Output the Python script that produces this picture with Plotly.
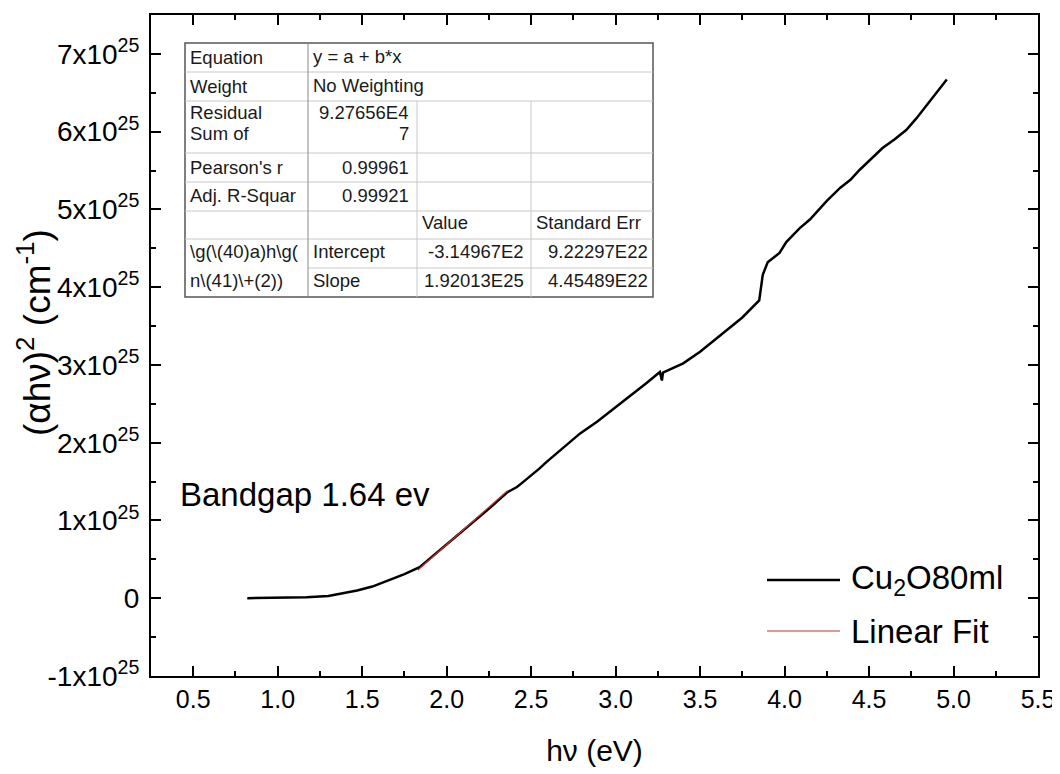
import plotly.graph_objects as go

# ---------------- data ----------------
hv = [0.82, 1.0, 1.17, 1.3, 1.47, 1.56, 1.66, 1.75, 1.84, 1.96, 2.05, 2.155, 2.26, 2.357,
      2.416, 2.45, 2.49, 2.55, 2.59, 2.69, 2.79, 2.89, 2.98, 3.08, 3.185, 3.262, 3.27,
      3.274, 3.28, 3.32, 3.40, 3.50, 3.64, 3.75, 3.85, 3.862, 3.871, 3.90, 3.97, 4.01,
      4.09, 4.15, 4.19, 4.25, 4.33, 4.39, 4.445, 4.52, 4.58, 4.65, 4.72, 4.78, 4.84,
      4.90, 4.96]
ahv2_e25 = [0.0, 0.003, 0.013, 0.03, 0.10, 0.15, 0.23, 0.31, 0.40, 0.62, 0.79, 0.97, 1.17,
            1.36, 1.43, 1.49, 1.56, 1.67, 1.75, 1.94, 2.12, 2.27, 2.42, 2.59, 2.77, 2.91,
            2.85, 2.80, 2.90, 2.94, 3.02, 3.17, 3.41, 3.61, 3.83, 4.0, 4.16, 4.32, 4.44,
            4.58, 4.76, 4.87, 4.97, 5.11, 5.28, 5.38, 5.51, 5.66, 5.79, 5.90, 6.02, 6.17,
            6.34, 6.50, 6.67]
fit_x = [1.83, 2.36]
fit_y_e25 = [0.364, 1.382]

x_ticks = [0.5, 1.0, 1.5, 2.0, 2.5, 3.0, 3.5, 4.0, 4.5, 5.0, 5.5]
y_tick_vals_e25 = [-1, 0, 1, 2, 3, 4, 5, 6, 7]
y_tick_text = ["-1x10<sup>25</sup>", "0", "1x10<sup>25</sup>", "2x10<sup>25</sup>",
               "3x10<sup>25</sup>", "4x10<sup>25</sup>", "5x10<sup>25</sup>",
               "6x10<sup>25</sup>", "7x10<sup>25</sup>"]

x_title = "h\u03bd (eV)"
y_title = "(\u03b1h\u03bd)<sup>2</sup> (cm<sup>-1</sup>)"
series_name = "Cu<sub>2</sub>O80ml"
fit_name = "Linear Fit"
bandgap_text = "Bandgap 1.64 ev"

# fit table contents
table_rows = [
    ("Equation", "y = a + b*x"),
    ("Weight", "No Weighting"),
]
stat_rows = [
    (["Residual", "Sum of"], ["9.27656E4", "7"]),
    (["Pearson's r"], ["0.99961"]),
    (["Adj. R-Squar"], ["0.99921"]),
]
param_header = ["Value", "Standard Err"]
param_label = ["\\g(\\(40)a)h\\g(", "n\\(41)\\+(2))"]
param_rows = [("Intercept", "-3.14967E2", "9.22297E22"),
              ("Slope", "1.92013E25", "4.45489E22")]

# ---------------- figure ----------------
E = 1e25
FONT = "Liberation Sans, Arial, sans-serif"
OFF = 8                      # page body margin
W, H = 1060 - OFF, 774 - OFF
L, R, T, B = 151, 1038, 15, 676   # plot area in window pixels


def px(x):
    return (x - L) / (R - L)


def py(y):
    return (B - y) / (B - T)


fig = go.Figure()
fig.add_trace(go.Scatter(x=hv, y=[v * E for v in ahv2_e25], mode="lines",
                         line=dict(color="black", width=2.5), name=series_name,
                         showlegend=False))
fig.add_trace(go.Scatter(x=fit_x, y=[v * E for v in fit_y_e25], mode="lines",
                         line=dict(color="#c8302f", width=1.2), name=fit_name,
                         showlegend=False))

axis_common = dict(showline=True, linecolor="black", linewidth=2, mirror="allticks",
                   ticks="inside", ticklen=10, tickwidth=1.5, tickcolor="black",
                   showgrid=False, zeroline=False)

fig.update_xaxes(range=[0.25, 5.5], tickvals=x_ticks,
                 ticktext=[f"{v:.1f}" for v in x_ticks],
                 tickfont=dict(family=FONT, size=25, color="black"),
                 minor=dict(ticks="inside", ticklen=5, tickwidth=1.5, tickcolor="black",
                            dtick=0.25, tick0=0.25, showgrid=False),
                 title=dict(text=x_title, font=dict(family=FONT, size=30, color="black"),
                            standoff=28),
                 **axis_common)
fig.update_yaxes(range=[-1 * E, 7.5 * E], tickvals=[v * E for v in y_tick_vals_e25],
                 ticktext=y_tick_text,
                 tickfont=dict(family=FONT, size=28, color="black"),
                 minor=dict(ticks="inside", ticklen=5, tickwidth=1.5, tickcolor="black",
                            dtick=0.5 * E, tick0=0, showgrid=False),
                 ticklabelstandoff=4,
                 **axis_common)

shapes = []
annos = []

# y axis title (placed as rotated annotation to match vertical position)
annos.append(dict(xref="paper", yref="paper", x=px(34), y=py(333), text=y_title,
                  textangle=-90, showarrow=False, xanchor="center", yanchor="middle",
                  font=dict(family=FONT, size=37, color="black")))

# legend (manual, to match long line samples)
leg_items = [(series_name, "black", 2.5, 580), (fit_name, "#c8302f", 1.2, 631)]
for name, col, w, yy in leg_items:
    shapes.append(dict(type="line", xref="paper", yref="paper", x0=px(767), x1=px(840),
                       y0=py(yy), y1=py(yy), line=dict(color=col, width=w)))
    annos.append(dict(xref="paper", yref="paper", x=px(849), y=py(yy), text=name,
                      showarrow=False, xanchor="left", yanchor="middle",
                      font=dict(family=FONT, size=33, color="black")))

# bandgap label
annos.append(dict(xref="paper", yref="paper", x=px(178), y=py(494), text=bandgap_text,
                  showarrow=False, xanchor="left", yanchor="middle",
                  font=dict(family=FONT, size=33, color="black")))

# fit results table
cols = [185, 308, 417, 531, 653]
rows = [43, 72, 101, 153, 182, 211, 239, 268, 297]
light = "#c8c8c8"


def hline(y, x0, x1, color=light, width=1):
    shapes.append(dict(type="line", xref="paper", yref="paper", x0=px(x0), x1=px(x1),
                       y0=py(y), y1=py(y), line=dict(color=color, width=width)))


def vline(x, y0, y1, color=light, width=1):
    shapes.append(dict(type="line", xref="paper", yref="paper", x0=px(x), x1=px(x),
                       y0=py(y0), y1=py(y1), line=dict(color=color, width=width)))


shapes.append(dict(type="rect", xref="paper", yref="paper", x0=px(cols[0]), x1=px(cols[-1]),
                   y0=py(rows[-1]), y1=py(rows[0]), fillcolor="white",
                   line=dict(color="#555555", width=1.5), layer="above"))
for r in rows[1:7]:
    hline(r, cols[0], cols[-1])
hline(rows[7], cols[1], cols[-1])
vline(cols[1], rows[0], rows[-1], color="#8a8a8a")
vline(cols[2], rows[2], rows[-1])
vline(cols[3], rows[2], rows[-1])

TF = dict(family=FONT, size=18.5, color="#1a1a1a")


def txt(x, y, s, anchor="left"):
    annos.append(dict(xref="paper", yref="paper", x=px(x), y=py(y), text=s,
                      showarrow=False, xanchor=anchor, yanchor="middle", font=TF))


for i, (a, b) in enumerate(table_rows):
    yc = (rows[i] + rows[i + 1]) / 2
    txt(188, yc, a)
    txt(311, yc - 1, b)

stat_line_y = [[112, 134], [167], [195]]
for (labels, vals), ys in zip(stat_rows, stat_line_y):
    for s, y in zip(labels, ys):
        txt(188, y, s)
    for s, y in zip(vals, ys):
        txt(411, y, s, "right")

txt(420, 223, param_header[0])
txt(534, 223, param_header[1])
param_y = [252, 280]
for s, y in zip(param_label, param_y):
    txt(188, y, s)
for (name, val, err), y in zip(param_rows, param_y):
    txt(311, y, name)
    txt(526, y, val, "right")
    txt(650, y, err, "right")

fig.update_layout(width=W, height=H,
                  margin=dict(l=L - OFF, r=W - (R - OFF), t=T - OFF, b=H - (B - OFF),
                              autoexpand=False),
                  paper_bgcolor="white", plot_bgcolor="white", showlegend=False,
                  shapes=shapes, annotations=annos,
                  font=dict(family=FONT, color="black"))

fig.write_html("out.html")
